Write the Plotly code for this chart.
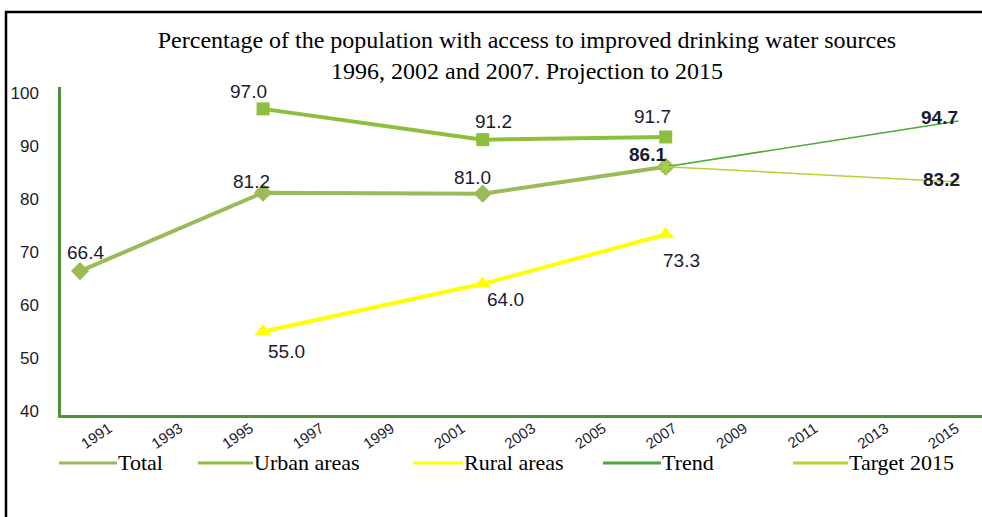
import plotly.graph_objects as go

# ---- data ----
total_years = [1991, 1996, 2002, 2007]
total_vals = [66.4, 81.2, 81.0, 86.1]
urban_years = [1996, 2002, 2007]
urban_vals = [97.0, 91.2, 91.7]
rural_years = [1996, 2002, 2007]
rural_vals = [55.0, 64.0, 73.3]
trend_years = [2007, 2015]
trend_vals = [86.1, 94.7]
target_years = [2007, 2015]
target_vals = [86.1, 83.2]
tick_years = list(range(1991, 2016, 2))
series_names = ["Total", "Urban areas", "Rural areas", "Trend", "Target 2015"]

C_TOTAL = "#9bbb59"
C_URBAN = "#8dbf3e"
C_RURAL = "#ffff00"
C_TREND = "#4ea83a"
C_TARGET = "#b5d334"
C_AXIS = "#4f913b"
C_TXT = "#1b1b2f"

fig = go.Figure()
fig.add_trace(go.Scatter(x=total_years, y=total_vals, mode="lines+markers", name="Total",
                         line=dict(color=C_TOTAL, width=4),
                         marker=dict(symbol="diamond", size=14, color=C_TOTAL)))
fig.add_trace(go.Scatter(x=urban_years, y=urban_vals, mode="lines+markers", name="Urban areas",
                         line=dict(color=C_URBAN, width=4),
                         marker=dict(symbol="square", size=13, color=C_URBAN)))
fig.add_trace(go.Scatter(x=rural_years, y=rural_vals, mode="lines+markers", name="Rural areas",
                         line=dict(color=C_RURAL, width=4),
                         marker=dict(symbol="triangle-up", size=15, color=C_RURAL)))
fig.add_trace(go.Scatter(x=trend_years, y=trend_vals, mode="lines", name="Trend",
                         line=dict(color=C_TREND, width=1.5)))
fig.add_trace(go.Scatter(x=target_years, y=target_vals, mode="lines", name="Target 2015",
                         line=dict(color=C_TARGET, width=1.5)))
fig.add_trace(go.Scatter(x=trend_years[:1], y=trend_vals[:1], mode="markers", showlegend=False,
                         marker=dict(symbol="asterisk-open", size=12, color="#a8d64a",
                                     line=dict(color="#a8d64a", width=1.5))))
# invisible trace that activates the tick-label axis
fig.add_trace(go.Scatter(x=tick_years, y=[None] * len(tick_years), xaxis="x2", mode="lines",
                         showlegend=False, hoverinfo="skip"))

annotations = []
def lab(xs, ys, offs, bold=False):
    for x, y, (dx, dy) in zip(xs, ys, offs):
        txt = f"{y:.1f}"
        if bold:
            txt = f"<b>{txt}</b>"
        annotations.append(dict(x=x, y=y, xref="x", yref="y", text=txt, showarrow=False,
                                xshift=dx, yshift=-dy,
                                font=dict(family="Liberation Sans, Arial", size=19, color=C_TXT)))

lab(total_years[:3], total_vals[:3], [(5, -19), (-12, -11), (-10, -16)])
lab(total_years[3:], total_vals[3:], [(-18, -12)], bold=True)
lab(urban_years, urban_vals, [(-15, -17), (11, -18), (-13, -20)])
lab(rural_years, rural_vals, [(23, 20), (23, 16), (16, 26)])
lab(trend_years[1:], trend_vals[1:], [(-19, -4)], bold=True)
lab(target_years[1:], target_vals[1:], [(-17, -3)], bold=True)

# manual legend (paper coords)
W, H = 982, 517
ML, MR, MT, MB = 61, 0, 87, 102
PW, PH = W - ML - MR, H - MT - MB
def px(x):
    return (x - ML) / PW
def py(y):
    return (H - MB - y) / PH

legend_items = [(59, 117, C_TOTAL), (198, 253, C_URBAN), (413, 463, C_RURAL),
                (603, 661, C_TREND), (793, 848, C_TARGET)]
shapes = []
LY = 463
for name, (x0, x1, col) in zip(series_names, legend_items):
    shapes.append(dict(type="line", xref="paper", yref="paper", x0=px(x0), x1=px(x1),
                       y0=py(LY), y1=py(LY), line=dict(color=col, width=3)))
    annotations.append(dict(xref="paper", yref="paper", x=px(x1), y=py(LY), xanchor="left",
                            yanchor="middle", text=name, showarrow=False, borderpad=0,
                            font=dict(family="Liberation Serif, Times New Roman", size=22, color="#000")))

# frame
shapes.append(dict(type="rect", xref="paper", yref="paper", x0=px(6), x1=px(1100), y0=py(12), y1=py(700),
                   line=dict(color="#000", width=2.5), layer="below"))

# tick-label axis (labels sit on a slightly different spacing than the data points)
lab_start = 1991 - (109 - ML) / 35.29
lab_end = 1991 + (W - 109) / 35.29

fig.update_layout(
    width=W, height=H,
    margin=dict(l=ML, r=MR, t=MT, b=MB, autoexpand=False),
    paper_bgcolor="white", plot_bgcolor="white",
    showlegend=False,
    title=dict(text="Percentage of the population with access to improved drinking water sources<br>1996, 2002 and 2007. Projection to 2015",
               x=527 / W, xanchor="center", y=1 - 48 / H, yanchor="top",
               font=dict(family="Liberation Serif, Times New Roman", size=24, color="#000")),
    xaxis=dict(range=[1990.48, 2015.64], showticklabels=False, showgrid=False, zeroline=False,
               showline=True, linecolor=C_AXIS, linewidth=2.5, ticks="", automargin=False),
    xaxis2=dict(range=[lab_start, lab_end], overlaying="x", side="bottom", anchor="y",
                tickvals=tick_years, ticktext=[str(t) for t in tick_years],
                tickangle=-34, showgrid=False, zeroline=False, showline=False, ticks="",
                ticklabelstandoff=1, ticklabeloverflow="allow", automargin=False,
                tickfont=dict(family="Liberation Sans, Arial", size=15, color=C_TXT)),
    yaxis=dict(range=[39.25, 101.13], tickvals=[40, 50, 60, 70, 80, 90, 100], showgrid=False,
               zeroline=False, showline=True, linecolor=C_AXIS, linewidth=2.5, ticks="",
               ticklabelstandoff=16, automargin=False,
               tickfont=dict(family="Liberation Sans, Arial", size=17, color=C_TXT)),
    annotations=annotations,
    shapes=shapes,
)

fig.write_html("out.html", config={"displayModeBar": False},
               post_script="document.body.style.margin='0';document.body.style.overflow='hidden';")
